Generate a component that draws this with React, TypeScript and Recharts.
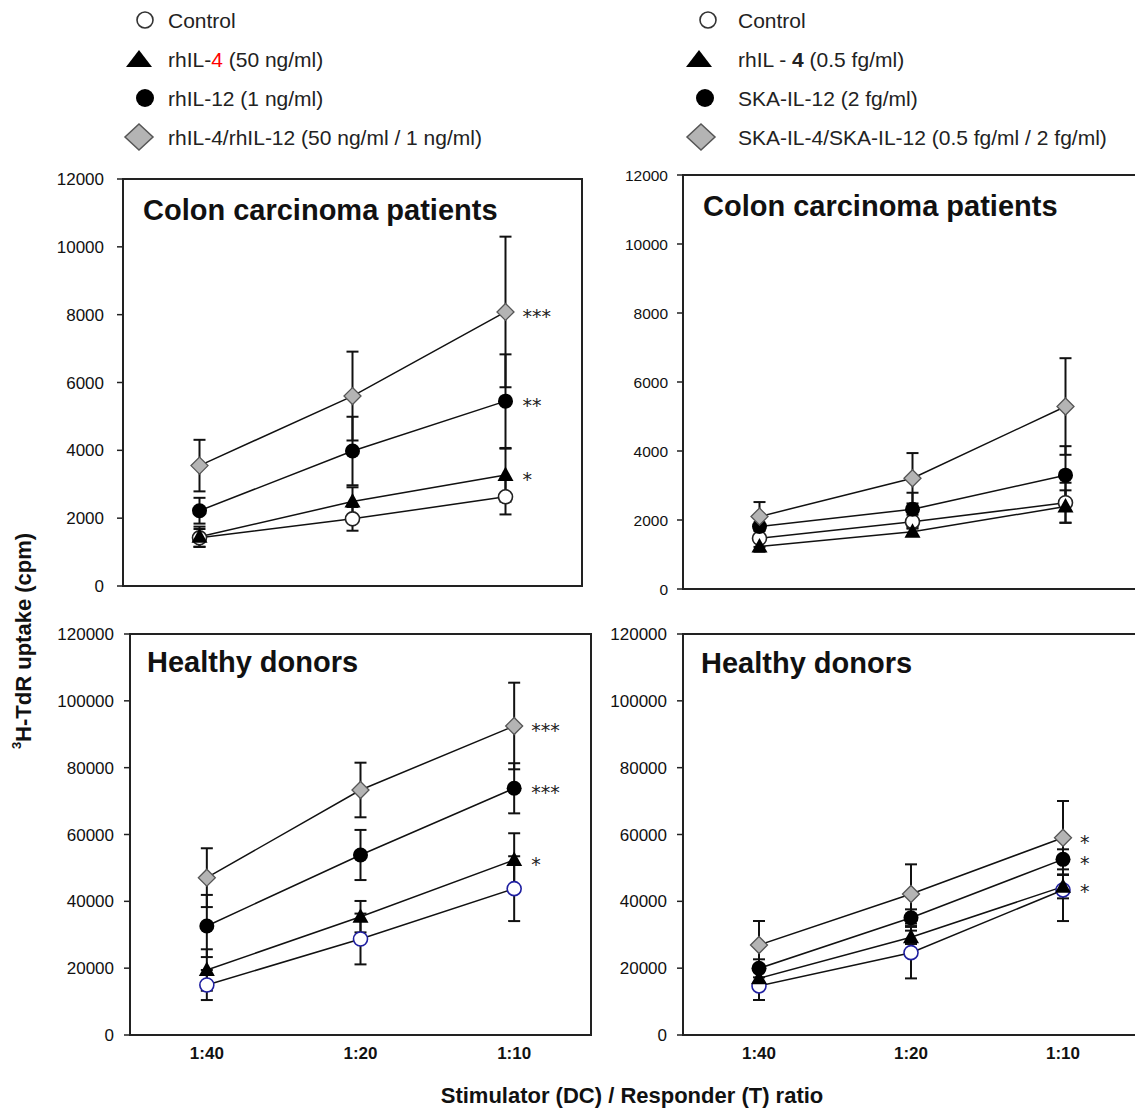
import React from 'react';
import { LineChart, Line, XAxis, YAxis, ErrorBar, ReferenceArea, LabelList, Legend } from 'recharts';

// ---------- data ----------
const ratios = ['1:40', '1:20', '1:10'];
const ratioPositions = [1, 2, 3];

const smallTicks = [0, 2000, 4000, 6000, 8000, 10000, 12000];
const bigTicks = [0, 20000, 40000, 60000, 80000, 100000, 120000];

const leftLegendLabels = ['Control', 'rhIL-[4] (50 ng/ml)', 'rhIL-12 (1 ng/ml)', 'rhIL-4/rhIL-12 (50 ng/ml / 1 ng/ml)'];
const rightLegendLabels = ['Control', 'rhIL - {4} (0.5 fg/ml)', 'SKA-IL-12 (2 fg/ml)', 'SKA-IL-4/SKA-IL-12 (0.5 fg/ml / 2 fg/ml)'];

const panelTitles = ['Colon carcinoma patients', 'Colon carcinoma patients', 'Healthy donors', 'Healthy donors'];

// Top-left: colon carcinoma, recombinant human cytokines
const tlControl = [1420, 1980, 2630];
const tlControlErr = [260, 350, 520];
const tlIl4 = [1450, 2490, 3270];
const tlIl4Err = [300, 420, 780];
const tlIl12 = [2220, 3980, 5450];
const tlIl12Err = [380, 1010, 1380];
const tlCombo = [3550, 5600, 8080];
const tlComboErr = [760, 1310, 2220];
const tlSig = { ctrl: '', il4: '*', il12: '**', combo: '***' };

// Top-right: colon carcinoma, SKA cytokines
const trControl = [1470, 1950, 2500];
const trControlErr = [250, 200, 580];
const trIl4 = [1230, 1660, 2390];
const trIl4Err = [150, 120, 470];
const trIl12 = [1810, 2310, 3300];
const trIl12Err = [300, 480, 840];
const trCombo = [2100, 3210, 5290];
const trComboErr = [420, 730, 1400];
const trSig = { ctrl: '', il4: '', il12: '', combo: '' };

// Bottom-left: healthy donors, recombinant human cytokines
const blControl = [14960, 28730, 43790];
const blControlErr = [4500, 7600, 9700];
const blIl4 = [19450, 35410, 52370];
const blIl4Err = [6200, 4700, 8000];
const blIl12 = [32620, 53870, 73830];
const blIl12Err = [9300, 7500, 7500];
const blCombo = [47080, 73320, 92470];
const blComboErr = [8800, 8170, 12960];
const blSig = { ctrl: '', il4: '*', il12: '***', combo: '***' };

// Bottom-right: healthy donors, SKA cytokines
const brControl = [14670, 24640, 43400];
const brControlErr = [4200, 7700, 9300];
const brIl4 = [16960, 29230, 44390];
const brIl4Err = [2000, 2000, 3500];
const brIl12 = [19950, 35100, 52570];
const brIl12Err = [2700, 2500, 3000];
const brCombo = [26930, 42200, 59040];
const brComboErr = [7180, 8870, 10980];
const brSig = { ctrl: '', il4: '*', il12: '*', combo: '*' };

// ---------- helpers ----------
const FONT = '"Liberation Sans", Arial, Helvetica, sans-serif';
const STAR_FONT = '"DejaVu Sans", "Liberation Sans", Arial, sans-serif';

function buildRows(ctrl: number[], ctrlErr: number[], il4: number[], il4Err: number[], il12: number[], il12Err: number[], combo: number[], comboErr: number[]) {
  return ratioPositions.map((x, i) => ({
    x,
    ctrl: ctrl[i], ctrlErr: ctrlErr[i],
    il4: il4[i], il4Err: il4Err[i],
    il12: il12[i], il12Err: il12Err[i],
    combo: combo[i], comboErr: comboErr[i],
  }));
}

const OpenCircle = ({ cx, cy, stroke }: any) => (
  <circle cx={cx} cy={cy} r={7} fill="#fff" stroke={stroke} strokeWidth={1.6} />
);
const Tri = ({ cx, cy }: any) => (
  <polygon points={`${cx},${cy - 8.5} ${cx + 8},${cy + 6} ${cx - 8},${cy + 6}`} fill="#000" />
);
const FilledCircle = ({ cx, cy }: any) => <circle cx={cx} cy={cy} r={7.5} fill="#000" />;
const Diamond = ({ cx, cy }: any) => (
  <polygon points={`${cx},${cy - 8.5} ${cx + 8.5},${cy} ${cx},${cy + 8.5} ${cx - 8.5},${cy}`} fill="#b4b4b4" stroke="#555" strokeWidth={1.3} />
);

const sigContent = (text: string) => (props: any) => {
  const v = Number(props.value);
  if (!text || !(v === 3 || props.index === 2)) return null;
  const x = Number(props.x ?? props.viewBox?.x);
  const y = Number(props.y ?? props.viewBox?.y);
  return (
    <text key={`sig-${text}-${x}`} x={x + 17} y={y + 11} fontSize={19} fill="#222" fontFamily={STAR_FONT}>
      {text}
    </text>
  );
};

function renderLabel(label: string, x: number, y: number) {
  const parts: { t: string; red?: boolean; bold?: boolean }[] = [];
  const re = /(\[[^\]]*\]|\{[^}]*\})/g;
  let last = 0;
  let m: RegExpExecArray | null;
  while ((m = re.exec(label))) {
    if (m.index > last) parts.push({ t: label.slice(last, m.index) });
    const s = m[0];
    if (s[0] === '[') parts.push({ t: s.slice(1, -1), red: true });
    else parts.push({ t: s.slice(1, -1), bold: true });
    last = m.index + s.length;
  }
  if (last < label.length) parts.push({ t: label.slice(last) });
  return (
    <text x={x} y={y} fontSize={21} fill="#222" fontFamily={FONT} dominantBaseline="central" style={{ whiteSpace: 'pre' }}>
      {parts.map((p, i) => (
        <tspan key={i} fill={p.red ? '#ff0000' : '#222'} fontWeight={p.bold ? 'bold' : 'normal'}>{p.t}</tspan>
      ))}
    </text>
  );
}

function LegendBlock({ labels, markerX, textX }: { labels: string[]; markerX: number[]; textX: number }) {
  const rows = [20, 59, 98, 137];
  return (
    <svg width={600} height={160} style={{ display: 'block', overflow: 'visible' }}>
      <circle cx={markerX[0]} cy={rows[0]} r={8} fill="#fff" stroke="#333" strokeWidth={1.6} />
      <polygon points={`${markerX[1]},${rows[1] - 9} ${markerX[1] + 13},${rows[1] + 8} ${markerX[1] - 13},${rows[1] + 8}`} fill="#000" />
      <circle cx={markerX[2]} cy={rows[2]} r={9} fill="#000" />
      <polygon points={`${markerX[3]},${rows[3] - 13} ${markerX[3] + 14},${rows[3]} ${markerX[3]},${rows[3] + 13} ${markerX[3] - 14},${rows[3]}`} fill="#b4b4b4" stroke="#555" strokeWidth={1.5} />
      {labels.map((l, i) => <React.Fragment key={i}>{renderLabel(l, textX, rows[i])}</React.Fragment>)}
    </svg>
  );
}

type PanelCfg = {
  left: number; top: number; width: number; height: number;
  margin: { top: number; right: number; bottom: number; left: number };
  yWidth: number; yMax: number; yTicks: number[]; tickFont: number; tickMargin: number;
  showX: boolean; title: string; titleOffset: number;
  rows: any[]; sig: { ctrl: string; il4: string; il12: string; combo: string };
  ctrlStroke: string;
  legend?: { labels: string[]; markerX: number[]; textX: number };
};

function Panel({ cfg }: { cfg: PanelCfg }) {
  return (
    <div style={{ position: 'absolute', left: cfg.left, top: cfg.top }}>
      <LineChart width={cfg.width} height={cfg.height} data={cfg.rows} margin={cfg.margin}>
        <XAxis
          type="number"
          dataKey="x"
          domain={[0.5, 3.5]}
          ticks={ratioPositions}
          tickFormatter={(v: number) => ratios[v - 1]}
          hide={!cfg.showX}
          axisLine={false}
          tickLine={false}
          tickSize={0}
          tickMargin={12}
          height={30}
          interval={0}
          tick={{ fontSize: 17, fontWeight: 'bold', fill: '#111', fontFamily: FONT }}
        />
        <YAxis
          type="number"
          domain={[0, cfg.yMax]}
          ticks={cfg.yTicks}
          width={cfg.yWidth}
          interval={0}
          tickSize={6}
          tickMargin={cfg.tickMargin}
          tick={{ fontSize: cfg.tickFont, fill: '#111', fontFamily: FONT }}
          axisLine={{ stroke: '#222', strokeWidth: 2 }}
          tickLine={{ stroke: '#222', strokeWidth: 1.5 }}
        />
        <ReferenceArea
          x1={0.5}
          x2={3.5}
          y1={0}
          y2={cfg.yMax}
          fill="none"
          fillOpacity={0}
          stroke="#222"
          strokeWidth={2}
          ifOverflow="visible"
          label={{
            value: cfg.title,
            position: 'insideTopLeft',
            offset: cfg.titleOffset,
            fontSize: 29,
            fontWeight: 'bold',
            fill: '#111',
            fontFamily: FONT,
          }}
        />
        <Line type="linear" dataKey="ctrl" stroke="#111" strokeWidth={1.5} isAnimationActive={false}
          dot={(p: any) => <OpenCircle key={`c-${p.index}`} cx={p.cx} cy={p.cy} stroke={cfg.ctrlStroke} />}>
          <ErrorBar dataKey="ctrlErr" width={6} strokeWidth={2} stroke="#111" direction="y" />
        </Line>
        <Line type="linear" dataKey="il4" stroke="#111" strokeWidth={1.5} isAnimationActive={false}
          dot={(p: any) => <Tri key={`t-${p.index}`} cx={p.cx} cy={p.cy} />}>
          <ErrorBar dataKey="il4Err" width={6} strokeWidth={2} stroke="#111" direction="y" />
          <LabelList dataKey="x" content={sigContent(cfg.sig.il4)} />
        </Line>
        <Line type="linear" dataKey="il12" stroke="#111" strokeWidth={1.5} isAnimationActive={false}
          dot={(p: any) => <FilledCircle key={`f-${p.index}`} cx={p.cx} cy={p.cy} />}>
          <ErrorBar dataKey="il12Err" width={6} strokeWidth={2} stroke="#111" direction="y" />
          <LabelList dataKey="x" content={sigContent(cfg.sig.il12)} />
        </Line>
        <Line type="linear" dataKey="combo" stroke="#111" strokeWidth={1.5} isAnimationActive={false}
          dot={(p: any) => <Diamond key={`d-${p.index}`} cx={p.cx} cy={p.cy} />}>
          <ErrorBar dataKey="comboErr" width={6} strokeWidth={2} stroke="#111" direction="y" />
          <LabelList dataKey="x" content={sigContent(cfg.sig.combo)} />
        </Line>
        {cfg.legend ? (
          <Legend
            layout="horizontal"
            verticalAlign="middle"
            align="center"
            wrapperStyle={{ left: 0, top: 0, width: 600, height: 160 }}
            content={() => <LegendBlock labels={cfg.legend!.labels} markerX={cfg.legend!.markerX} textX={cfg.legend!.textX} />}
          />
        ) : null}
      </LineChart>
    </div>
  );
}

export default function App() {
  const panels: PanelCfg[] = [
    {
      left: 0, top: 0, width: 600, height: 600,
      margin: { top: 179, right: 18, bottom: 14, left: 0 },
      yWidth: 123, yMax: 12000, yTicks: smallTicks, tickFont: 17, tickMargin: 13,
      showX: false, title: panelTitles[0], titleOffset: 20,
      rows: buildRows(tlControl, tlControlErr, tlIl4, tlIl4Err, tlIl12, tlIl12Err, tlCombo, tlComboErr),
      sig: tlSig, ctrlStroke: '#222',
      legend: { labels: leftLegendLabels, markerX: [145, 139, 145, 139], textX: 168 },
    },
    {
      left: 560, top: 0, width: 600, height: 600,
      margin: { top: 175, right: 18, bottom: 11, left: 0 },
      yWidth: 123, yMax: 12000, yTicks: smallTicks, tickFont: 15.5, tickMargin: 9,
      showX: false, title: panelTitles[1], titleOffset: 20,
      rows: buildRows(trControl, trControlErr, trIl4, trIl4Err, trIl12, trIl12Err, trCombo, trComboErr),
      sig: trSig, ctrlStroke: '#222',
      legend: { labels: rightLegendLabels, markerX: [148, 139, 145, 141], textX: 178 },
    },
    {
      left: 0, top: 600, width: 600, height: 514,
      margin: { top: 34, right: 9, bottom: 49, left: 0 },
      yWidth: 130, yMax: 120000, yTicks: bigTicks, tickFont: 17, tickMargin: 10,
      showX: true, title: panelTitles[2], titleOffset: 17,
      rows: buildRows(blControl, blControlErr, blIl4, blIl4Err, blIl12, blIl12Err, blCombo, blComboErr),
      sig: blSig, ctrlStroke: '#1f1fa0',
    },
    {
      left: 560, top: 600, width: 600, height: 514,
      margin: { top: 34, right: 21, bottom: 49, left: 0 },
      yWidth: 123, yMax: 120000, yTicks: bigTicks, tickFont: 17, tickMargin: 10,
      showX: true, title: panelTitles[3], titleOffset: 18,
      rows: buildRows(brControl, brControlErr, brIl4, brIl4Err, brIl12, brIl12Err, brCombo, brComboErr),
      sig: brSig, ctrlStroke: '#1f1fa0',
    },
  ];

  return (
    <div
      style={{
        position: 'absolute', left: 0, top: 0, width: 1135, height: 1114,
        overflow: 'hidden', background: '#fff', fontFamily: FONT,
      }}
    >
      {panels.map((p, i) => <Panel key={i} cfg={p} />)}
      <svg width={1135} height={1114} style={{ position: 'absolute', left: 0, top: 0, pointerEvents: 'none' }}>
        <text
          x={23}
          y={641}
          transform="rotate(-90 23 641)"
          textAnchor="middle"
          dominantBaseline="central"
          fontSize={22}
          fontWeight="bold"
          fill="#111"
          fontFamily={FONT}
        >
          <tspan fontSize={13} dy={-7}>3</tspan>
          <tspan dy={7}>H-TdR uptake (cpm)</tspan>
        </text>
        <text x={632} y={1095} textAnchor="middle" dominantBaseline="central" fontSize={22} fontWeight="bold" fill="#111" fontFamily={FONT}>
          Stimulator (DC) / Responder (T) ratio
        </text>
      </svg>
    </div>
  );
}
